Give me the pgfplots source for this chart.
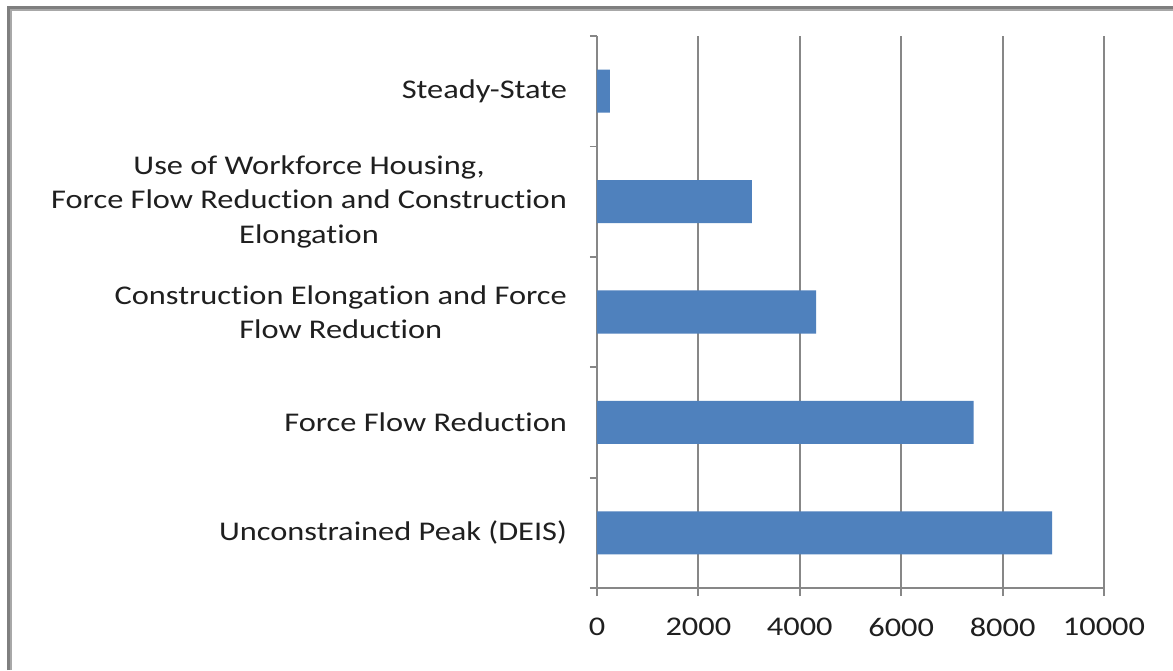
\documentclass[border=0pt]{standalone}
\usepackage{pgfplots}
\pgfplotsset{compat=1.18}
\usepackage{fontspec}
\setmainfont{Carlito}[FakeStretch=1.2, Ligatures={NoCommon,NoContextual}]

\definecolor{barblue}{HTML}{4F81BD}
\definecolor{gridgray}{HTML}{878787}
\definecolor{frameouter}{HTML}{7F7F7F}
\definecolor{frameinner}{HTML}{A8A8A8}

\begin{document}
\begin{tikzpicture}
    \useasboundingbox[fill=white] (0,0) rectangle (586.5pt,335pt);
    % window frame, left and top edges only
    \draw[frameouter, line width=1.5pt] (4.25pt,0) -- (4.25pt,331.25pt) -- (586.5pt,331.25pt);
    \draw[frameinner, line width=1pt] (5.5pt,0) -- (5.5pt,330pt) -- (586.5pt,330pt);

    \begin{axis}[
        at={(298.5pt,41pt)}, anchor=south west,
        scale only axis, width=253.5pt, height=276pt,
        xbar, bar width=0.39,
        xmin=0, xmax=10000, ymin=-0.5, ymax=4.5,
        axis x line*=bottom, axis y line*=left,
        axis line style={gridgray, line width=0.9pt, -},
        xtick={0,2000,...,10000},
        scaled x ticks=false,
        xmajorgrids, major grid style={gridgray, line width=0.9pt},
        ytick={0,1,2,3,4},
        yticklabels={{Unconstrained Peak (DEIS)},{Force Flow Reduction},{Construction Elongation and Force\\Flow Reduction},{Use of Workforce Housing,\\Force Flow Reduction and Construction\\Elongation},{Steady-State}},
        minor ytick={-0.5,0.5,...,4.5},
        tick align=outside,
        major tick length=4pt, minor tick length=3.5pt,
        tick style={gridgray, line width=0.9pt},
        every major y tick/.append style={draw=none},
        /pgf/number format/assume math mode=true,
        /pgf/number format/1000 sep={},
        ticklabel style={font=\fontsize{13.5}{17.25}\selectfont, text=black!88},
        yticklabel style={align=center, xshift=-7.5pt},
        xticklabel style={yshift=-7.5pt},
    ]
        \addplot[fill=barblue, draw=none] coordinates {
            (8975,0)
            (7430,1)
            (4320,2)
            (3057,3)
            (256,4)
        };
    \end{axis}
\end{tikzpicture}
\end{document}
